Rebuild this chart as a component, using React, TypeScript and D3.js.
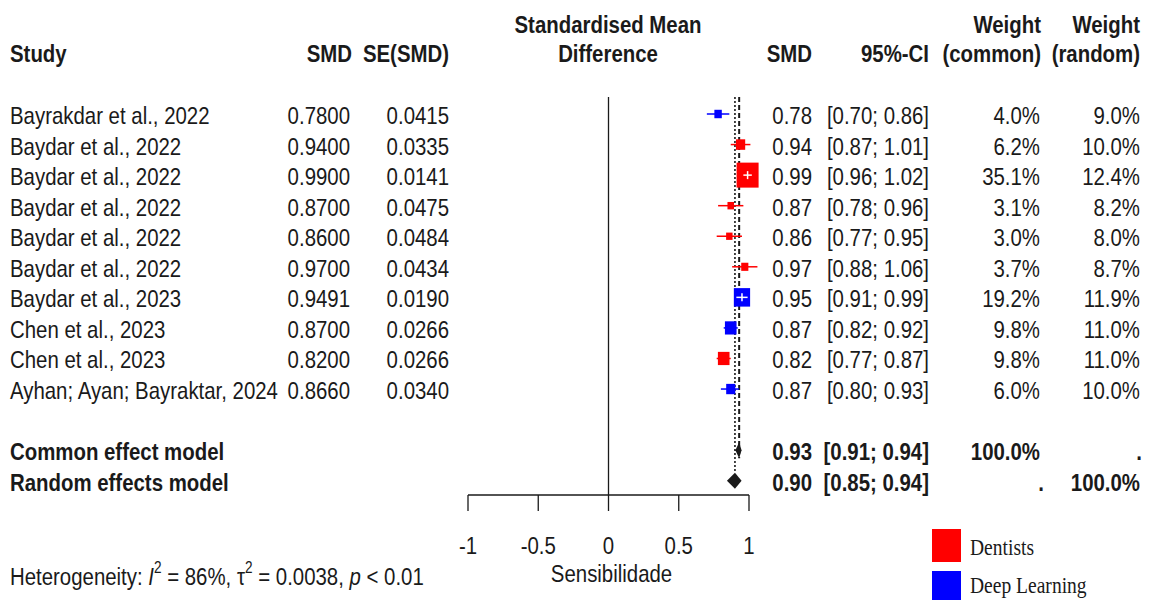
import React from 'react';
import * as d3 from 'd3';

// ------- Data -------
const studies = [
  'Bayrakdar et al., 2022',
  'Baydar et al., 2022',
  'Baydar et al., 2022',
  'Baydar et al., 2022',
  'Baydar et al., 2022',
  'Baydar et al., 2022',
  'Baydar et al., 2023',
  'Chen et al., 2023',
  'Chen et al., 2023',
  'Ayhan; Ayan; Bayraktar, 2024',
];
const smdText = ['0.7800', '0.9400', '0.9900', '0.8700', '0.8600', '0.9700', '0.9491', '0.8700', '0.8200', '0.8660'];
const seText = ['0.0415', '0.0335', '0.0141', '0.0475', '0.0484', '0.0434', '0.0190', '0.0266', '0.0266', '0.0340'];
const smd = [0.78, 0.94, 0.99, 0.87, 0.86, 0.97, 0.95, 0.87, 0.82, 0.87];
const ciLower = [0.7, 0.87, 0.96, 0.78, 0.77, 0.88, 0.91, 0.82, 0.77, 0.8];
const ciUpper = [0.86, 1.01, 1.02, 0.96, 0.95, 1.06, 0.99, 0.92, 0.87, 0.93];
const weightCommon = [4.0, 6.2, 35.1, 3.1, 3.0, 3.7, 19.2, 9.8, 9.8, 6.0];
const weightRandom = [9.0, 10.0, 12.4, 8.2, 8.0, 8.7, 11.9, 11.0, 11.0, 10.0];
const groups = ['Deep Learning', 'Dentists', 'Dentists', 'Dentists', 'Dentists', 'Dentists', 'Deep Learning', 'Deep Learning', 'Dentists', 'Deep Learning'];

const legendLabels = ['Dentists', 'Deep Learning'];
const legendColors = ['#ff0000', '#0000ff'];

const commonModel = { label: 'Common effect model', est: 0.93, lo: 0.91, hi: 0.94, wc: '100.0%', wr: '.' };
const randomModel = { label: 'Random effects model', est: 0.9, lo: 0.85, hi: 0.94, wc: '.', wr: '100.0%' };

const xTicks = [-1, -0.5, 0, 0.5, 1];

// ------- Layout -------
const W = 1150;
const H = 600;
const FS = 24;
const SX = 0.85;
const INK = '#1a1a1a';

const x = d3.scaleLinear().domain([-1, 1]).range([468, 749]);
const row = d3.scaleLinear().domain([0, 1]).range([114, 144.56]);
const boxW = d3.scaleSqrt().domain([0, 35.1]).range([0, 22]);
const color = d3.scaleOrdinal<string, string>().domain(legendLabels).range(legendColors);

const f2 = d3.format('.2f');
const f1 = (v: number) => d3.format('.1f')(v) + '%';

const T = ({
  x: tx,
  y: ty,
  anchor = 'start',
  bold = false,
  serif = false,
  size = FS,
  children,
}: any) => (
  <text
    transform={`translate(${tx},${ty}) scale(${SX},1)`}
    textAnchor={anchor}
    fontWeight={bold ? 'bold' : 'normal'}
    fontFamily={serif ? '"Liberation Serif", "Times New Roman", serif' : '"Liberation Sans", Arial, sans-serif'}
    fontSize={size}
    fill={INK}
  >
    {children}
  </text>
);

const diamond = (m: { est: number; lo: number; hi: number }, cy: number) =>
  `M${x(m.lo) - 1},${cy} L${x(m.est)},${cy - 8} L${x(m.hi) + 1},${cy} L${x(m.est)},${cy + 8} Z`;

export default function App() {
  const yTop = 97;
  const yAxis = 495;
  const yCommon = row(11);
  const yRandom = row(12);

  return (
    <svg
      width={W}
      height={H}
      viewBox={`0 0 ${W} ${H}`}
      style={{ position: 'absolute', left: 0, top: 0, background: '#fff' }}
    >
      <rect width={W} height={H} fill="#fff" />

      {/* ------- Headers ------- */}
      <T x={10} y={62} bold>Study</T>
      <T x={352} y={62} anchor="end" bold>SMD</T>
      <T x={449} y={62} anchor="end" bold>SE(SMD)</T>
      <T x={608} y={33} anchor="middle" bold>Standardised Mean</T>
      <T x={608} y={62} anchor="middle" bold>Difference</T>
      <T x={812} y={62} anchor="end" bold>SMD</T>
      <T x={929} y={62} anchor="end" bold>95%-CI</T>
      <T x={1041} y={33} anchor="end" bold>Weight</T>
      <T x={1041} y={62} anchor="end" bold>(common)</T>
      <T x={1140} y={33} anchor="end" bold>Weight</T>
      <T x={1140} y={62} anchor="end" bold>(random)</T>

      {/* ------- Reference lines ------- */}
      <line x1={x(0)} x2={x(0)} y1={yTop} y2={yAxis} stroke={INK} strokeWidth={1.3} />
      <line
        x1={x(commonModel.est)}
        x2={x(commonModel.est)}
        y1={yTop}
        y2={yCommon + 8}
        stroke={INK}
        strokeWidth={2}
        strokeDasharray="5,3"
      />
      <line
        x1={x(randomModel.est)}
        x2={x(randomModel.est)}
        y1={yTop}
        y2={yRandom - 8}
        stroke={INK}
        strokeWidth={1.6}
        strokeDasharray="2,2"
      />

      {/* ------- Study rows ------- */}
      {studies.map((s, i) => {
        const cy = row(i);
        const c = color(groups[i]);
        const bw = boxW(weightCommon[i]);
        const bh = bw * (25 / 22);
        const inside = x(ciLower[i]) >= x(smd[i]) - bw / 2 && x(ciUpper[i]) <= x(smd[i]) + bw / 2;
        return (
          <g key={i}>
            <T x={10} y={cy + 10}>{s}</T>
            <T x={350} y={cy + 10} anchor="end">{smdText[i]}</T>
            <T x={449} y={cy + 10} anchor="end">{seText[i]}</T>
            <line x1={x(ciLower[i])} x2={x(ciUpper[i])} y1={cy} y2={cy} stroke={c} strokeWidth={1.5} />
            <rect x={x(smd[i]) - bw / 2} y={cy - bh / 2} width={bw} height={bh} fill={c} />
            {inside && (
              <g stroke="#fff" strokeWidth={1.5}>
                <line x1={x(ciLower[i])} x2={x(ciUpper[i])} y1={cy} y2={cy} />
                <line x1={x(smd[i])} x2={x(smd[i])} y1={cy - 4} y2={cy + 4} />
              </g>
            )}
            <T x={812} y={cy + 10} anchor="end">{f2(smd[i])}</T>
            <T x={929} y={cy + 10} anchor="end">{`[${f2(ciLower[i])}; ${f2(ciUpper[i])}]`}</T>
            <T x={1040} y={cy + 10} anchor="end">{f1(weightCommon[i])}</T>
            <T x={1140} y={cy + 10} anchor="end">{f1(weightRandom[i])}</T>
          </g>
        );
      })}

      {/* ------- Summary rows ------- */}
      {[
        [commonModel, yCommon],
        [randomModel, yRandom],
      ].map(([m, cy]: any, k) => (
        <g key={k}>
          <T x={10} y={cy + 10} bold>{m.label}</T>
          <path d={diamond(m, cy)} fill={INK} />
          <T x={812} y={cy + 10} anchor="end" bold>{f2(m.est)}</T>
          <T x={929} y={cy + 10} anchor="end" bold>{`[${f2(m.lo)}; ${f2(m.hi)}]`}</T>
          <T x={m.wc === '.' ? 1044 : 1040} y={cy + 10} anchor="end" bold>{m.wc}</T>
          <T x={m.wr === '.' ? 1142 : 1140} y={cy + 10} anchor="end" bold>{m.wr}</T>
        </g>
      ))}

      {/* ------- Axis ------- */}
      <g stroke={INK} strokeWidth={1.3} fill="none">
        <line x1={x(-1)} x2={x(1)} y1={yAxis} y2={yAxis} />
        {xTicks.map((t) => (
          <line key={t} x1={x(t)} x2={x(t)} y1={yAxis} y2={yAxis + 16} />
        ))}
      </g>
      {xTicks.map((t) => (
        <T key={t} x={x(t)} y={554} anchor="middle">{String(t)}</T>
      ))}
      <T x={x(0) + 3} y={582} anchor="middle">Sensibilidade</T>

      {/* ------- Heterogeneity ------- */}
      <text
        transform={`translate(10,585) scale(${SX},1)`}
        fontFamily='"Liberation Sans", Arial, sans-serif'
        fontSize={FS}
        fill={INK}
      >
        Heterogeneity:{' '}
        <tspan fontStyle="italic">I</tspan>
        <tspan fontSize={16} dy={-12}>2</tspan>
        <tspan dy={12}> = 86%, τ</tspan>
        <tspan fontSize={16} dy={-12}>2</tspan>
        <tspan dy={12}> = 0.0038, </tspan>
        <tspan fontStyle="italic">p</tspan>
        <tspan>  &lt; 0.01</tspan>
      </text>

      {/* ------- Legend ------- */}
      {legendLabels.map((l, i) => (
        <g key={l}>
          <rect x={932} y={529 + i * 42} width={29} height={33} fill={legendColors[i]} />
          <T x={970} y={555 + i * 38} serif size={23}>{l}</T>
        </g>
      ))}
    </svg>
  );
}
